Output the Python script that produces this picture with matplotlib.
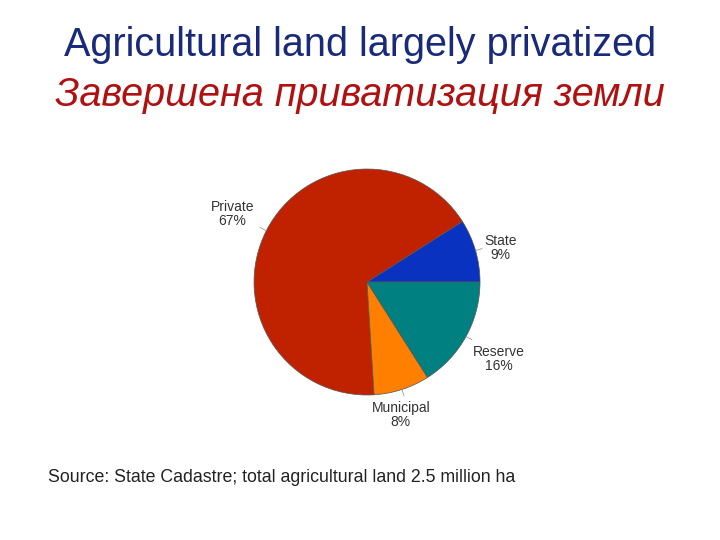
import matplotlib
matplotlib.use("Agg")
import matplotlib.pyplot as plt
import numpy as np

categories = ["State", "Private", "Municipal", "Reserve"]
values = [9, 67, 8, 16]
colors = ["#0A32C0", "#C02200", "#FF7F00", "#008080"]

fig = plt.figure(figsize=(7.2, 5.4), dpi=100)
fig.patch.set_facecolor("white")
ax = fig.add_axes([0.3528, 0.2685, 0.3139, 0.4185])
wedges, _ = ax.pie(values, colors=colors, startangle=0, counterclock=True,
                   wedgeprops=dict(edgecolor="#555555", linewidth=0.5))
ax.set_xlim(-1, 1); ax.set_ylim(-1, 1); ax.set_aspect("equal")

label_pos = {"Private": (-1.19, 0.60), "State": (1.18, 0.30),
             "Reserve": (1.17, -0.68), "Municipal": (0.30, -1.18)}
for w, cat, v in zip(wedges, categories, values):
    ang = np.deg2rad((w.theta1 + w.theta2) / 2)
    x0, y0 = np.cos(ang), np.sin(ang)
    tx, ty = label_pos[cat]
    ax.plot([x0 * 1.0, x0 * 1.06], [y0 * 1.0, y0 * 1.06], color="#888888", lw=0.5, clip_on=False)
    ax.text(tx, ty, f"{cat}\n{v}%", ha="center", va="center", fontsize=10,
            color="#333333", family="Liberation Sans", linespacing=1.0)

fig.text(0.5, 1 - 45/540, "Agricultural land largely privatized", ha="center", va="center",
         fontsize=28.5, color="#1A2A7A", family="Liberation Sans")
fig.text(0.5, 1 - 95/540, "Завершена приватизация земли", ha="center", va="center",
         fontsize=28.5, color="#B01010", style="italic", family="Liberation Sans")
fig.text(48/720, 1 - 477/540, "Source: State Cadastre; total agricultural land 2.5 million ha",
         ha="left", va="center", fontsize=12.8, color="#222222", family="Liberation Sans")

fig.savefig("out.png", dpi=100)
